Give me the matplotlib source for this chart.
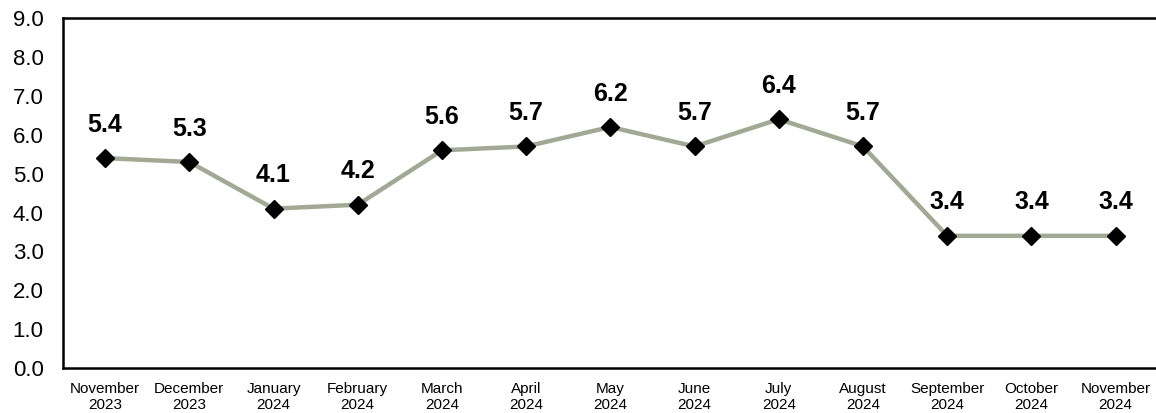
import matplotlib.pyplot as plt

months = ["November\n2023", "December\n2023", "January\n2024", "February\n2024",
          "March\n2024", "April\n2024", "May\n2024", "June\n2024", "July\n2024",
          "August\n2024", "September\n2024", "October\n2024", "November\n2024"]
rate = [5.4, 5.3, 4.1, 4.2, 5.6, 5.7, 6.2, 5.7, 6.4, 5.7, 3.4, 3.4, 3.4]

plt.rcParams['font.family'] = ['Liberation Sans', 'DejaVu Sans']

fig = plt.figure(figsize=(11.56, 4.13), dpi=100)
ax = fig.add_axes([0.0545, 0.109, 0.947, 0.847])

x = list(range(len(rate)))
ax.plot(x, rate, color='#a2a894', linewidth=3.2, zorder=2)
ax.plot(x, rate, linestyle='none', marker='D', markersize=9.5, color='black', zorder=3)

# data labels above each point
for i, v in enumerate(rate):
    ax.annotate(f"{v:.1f}", (i, v), xytext=(0, 19), textcoords='offset points',
                ha='center', va='baseline', fontsize=18, fontweight='bold')

ax.set_xlim(-0.5, len(rate) - 0.5)
ax.set_ylim(0, 9)
ax.set_yticks([i * 1.0 for i in range(10)])
ax.set_yticklabels([f"{i:.1f}" for i in range(10)], fontsize=16)
ax.set_xticks(x)
ax.set_xticklabels(months, fontsize=11, linespacing=1.15)
ax.tick_params(axis='both', length=0)
ax.tick_params(axis='y', pad=14)
ax.tick_params(axis='x', pad=10)

for s in ['left', 'bottom', 'top']:
    ax.spines[s].set_linewidth(1.8)
    ax.spines[s].set_color('black')
ax.spines['right'].set_visible(False)

fig.savefig('out.png', dpi=100)
